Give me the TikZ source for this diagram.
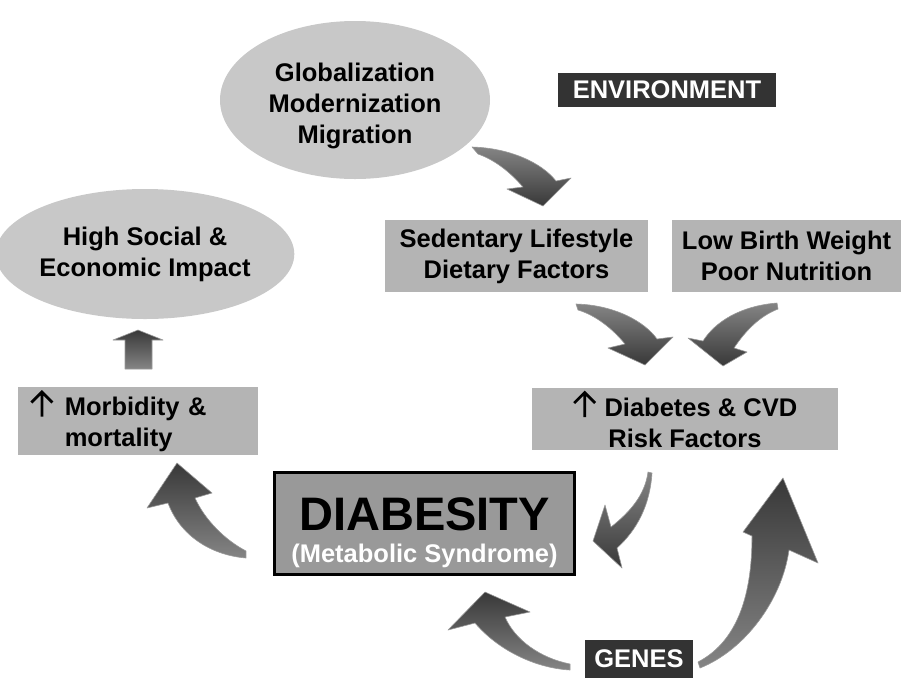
\documentclass[tikz,border=0pt]{standalone}
\usepackage{fontspec}
\setmainfont{Liberation Sans}
\newcommand{\uparrowglyph}{\tikz[x=1pt,y=1pt,baseline=0pt]\draw[line width=2.8pt, line cap=butt, black] (12,-1) -- (12,24) (1.5,13) -- (12,23.5) -- (22.5,13);}
\usetikzlibrary{shapes.geometric,shadings}
\definecolor{ellgray}{RGB}{200,200,200}
\definecolor{boxgray}{RGB}{180,180,180}
\definecolor{diagray}{RGB}{153,153,153}
\definecolor{darkbox}{RGB}{51,51,51}
\begin{document}
\begin{tikzpicture}[x=1pt,y=-1pt,
  txt/.style={font=\fontsize{25.5}{31}\selectfont\bfseries, align=center, inner sep=0pt},
  ellnode/.style={ellipse, fill=ellgray, txt},
  graybox/.style={rectangle, fill=boxgray, txt},
  darklabel/.style={rectangle, fill=darkbox, text=white, txt},
  arr/.style={line join=round, draw=black!40, line width=0.6pt, top color=black!78, bottom color=black!48}
]
\useasboundingbox (0,0) rectangle (901,678);

% nodes
\node[ellnode, minimum width=270pt, minimum height=158pt] (glob) at (355,100) {\rule{0pt}{31pt}Globalization\\Modernization\\Migration};
\node[ellnode, minimum width=270pt, minimum height=130pt] (impact) at (145,254) {High Social \&\\Economic Impact};
\node[darklabel, minimum width=218pt, minimum height=34pt] (env) at (667,90) {ENVIRONMENT};
\node[graybox, minimum width=263pt, minimum height=72pt] (sed) at (516.5,256) {Sedentary Lifestyle\\Dietary Factors};
\node[graybox, minimum width=229pt, minimum height=72pt] (lbw) at (786.5,256) {Low Birth Weight\\Poor Nutrition};
\node[graybox, minimum width=306pt, minimum height=62pt] (risk) at (685,419) {\uparrowglyph\hspace{8pt}Diabetes \& CVD\\Risk Factors};
\node[graybox, minimum height=68pt, text width=228pt, inner xsep=6pt, align=left] (morb) at (138,421) {\hspace{6pt}\uparrowglyph\hspace{11pt}Morbidity \&\\\hphantom{\hspace{6pt}\uparrowglyph\hspace{11pt}}mortality};
\node[rectangle, fill=diagray, draw=black, line width=3pt, minimum width=300pt, minimum height=102pt, align=center, inner sep=0pt, font=\bfseries] (diab) at (424.5,523.5)
  {\rule{0pt}{52pt}{\fontsize{47}{50}\selectfont DIABESITY}\\[12pt]{\fontsize{25.5}{28}\selectfont\color{white}(Metabolic Syndrome)}};
\node[darklabel, minimum width=108pt, minimum height=38pt] (genes) at (639,659) {GENES};

% block arrow morbidity -> impact
\path[arr, shading angle=0] (138,330) -- (163,340) -- (152,340) -- (152,369) -- (125,369) -- (125,340) -- (113,340) -- cycle;

% curved 3D arrows
\path[arr, shading angle=180] (472,147) .. controls (510,148) and (542,163) .. (556,181) -- (571,178) -- (543,206) -- (507,189) -- (523,187) .. controls (510,172) and (495,160) .. (478,154) -- cycle;
\path[arr, shading angle=180] (576,304) .. controls (615,305) and (645,322) .. (657,339) -- (673,337) -- (645,365) -- (608,348) -- (625,344) .. controls (612,328) and (595,315) .. (578,310) -- cycle;
\path[arr, shading angle=180] (777,303) .. controls (740,306) and (715,322) .. (703,341) -- (688,338) -- (723,366) -- (747,352) -- (734,348) .. controls (746,330) and (760,316) .. (778,309) -- cycle;
\path[arr, shading angle=180] (648,472) .. controls (645,495) and (630,512) .. (611,527) -- (605,505) -- (593,541) -- (622,568) -- (617,548) .. controls (637,530) and (650,505) .. (652,473) -- cycle;
\path[arr, shading angle=0] (246,558) .. controls (210,555) and (180,535) .. (168,503) -- (147,508) -- (177,463) -- (212,493) -- (195,498) .. controls (205,520) and (225,540) .. (246,551) -- cycle;
\path[arr, shading angle=0] (570,670) .. controls (535,668) and (498,650) .. (475,623) -- (448,630) -- (485,592) -- (530,612) -- (505,617) .. controls (515,640) and (540,658) .. (570,664) -- cycle;
\path[arr, shading angle=0] (698,662) .. controls (740,640) and (752,590) .. (752,536) -- (743,532) -- (783,478) -- (818,563) -- (789,550) .. controls (782,600) and (745,650) .. (700,668) -- cycle;
\end{tikzpicture}
\end{document}
